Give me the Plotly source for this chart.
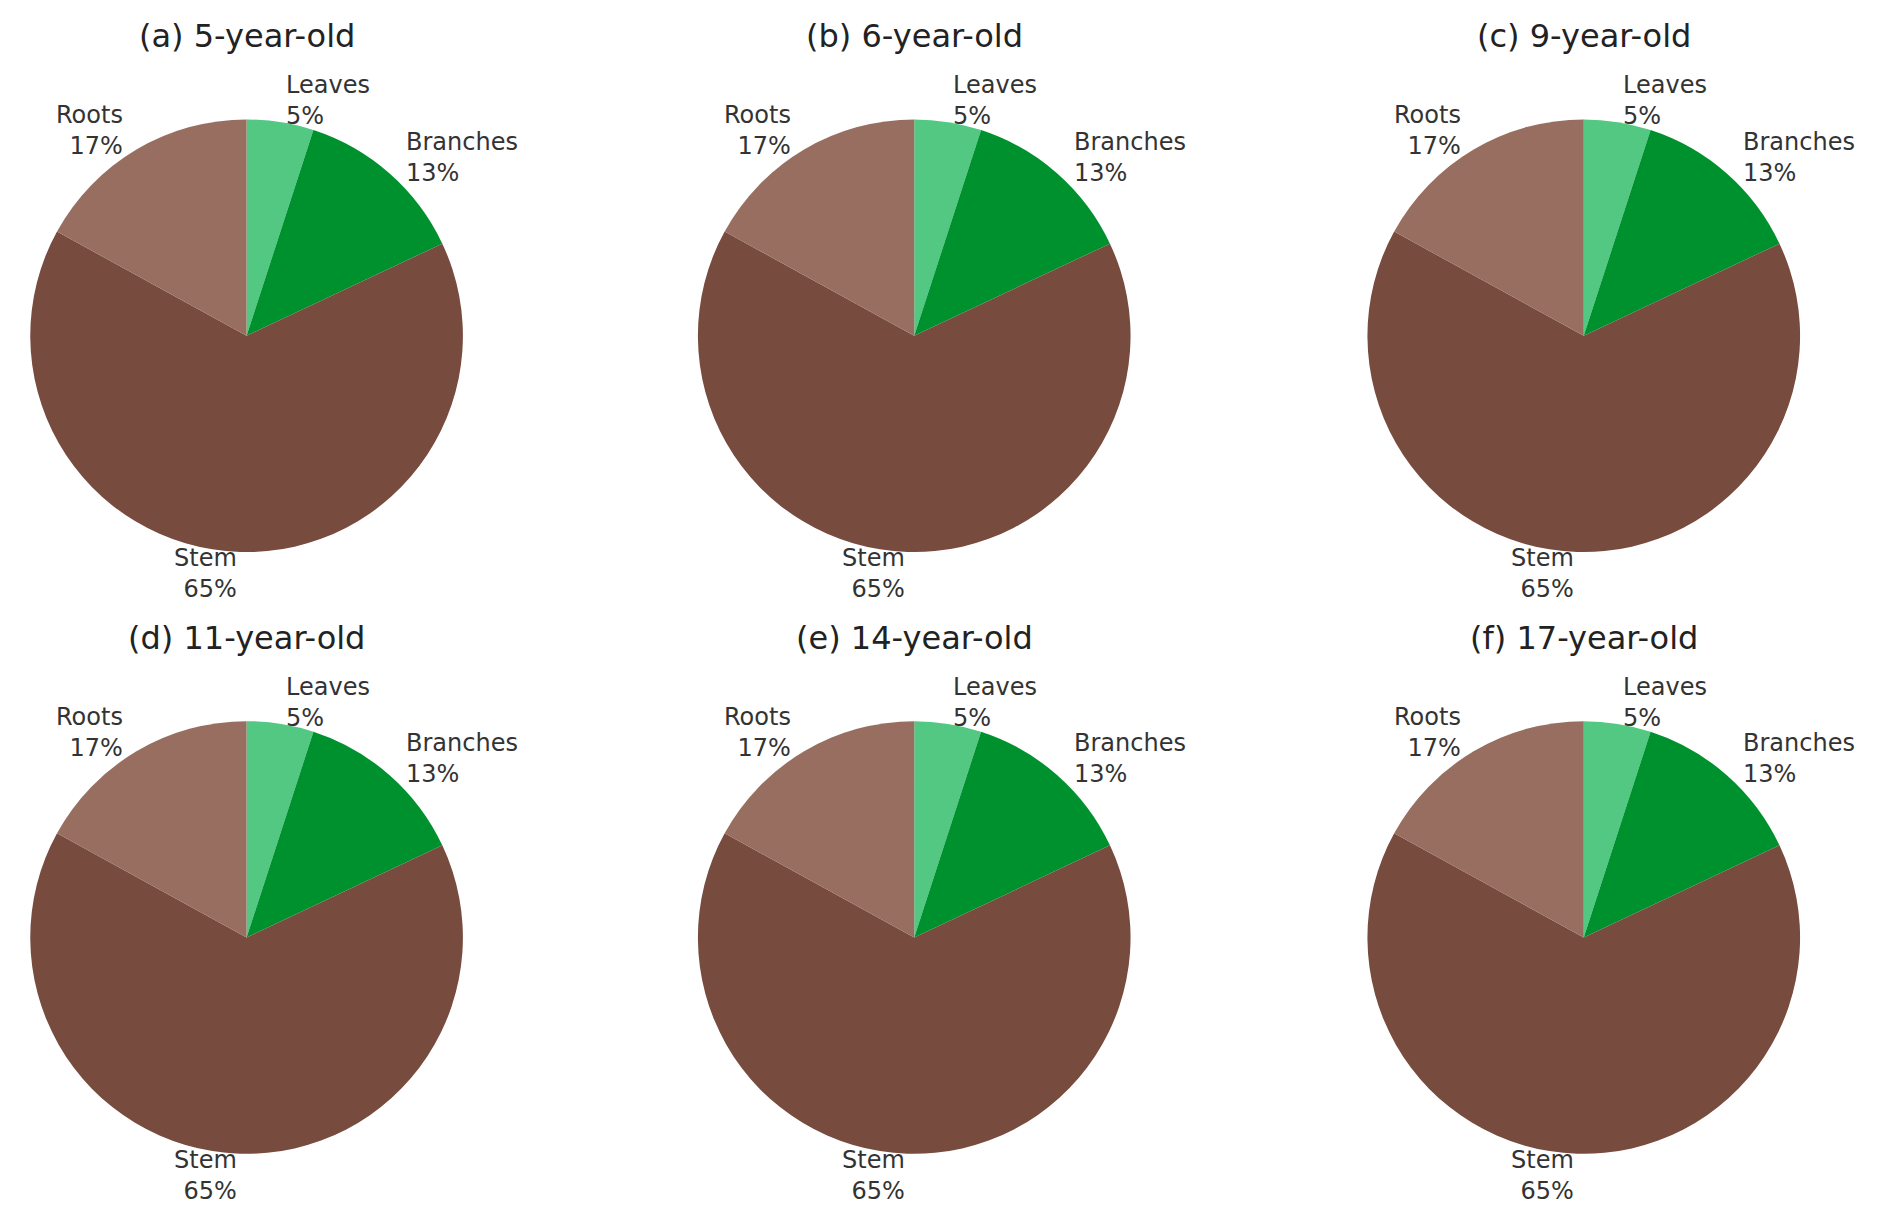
import math
import plotly.graph_objects as go

titles = ["(a) 5-year-old", "(b) 6-year-old", "(c) 9-year-old",
          "(d) 11-year-old", "(e) 14-year-old", "(f) 17-year-old"]
parts = ["Leaves", "Branches", "Stem", "Roots"]
shares = [5, 13, 65, 17]
colors = ["#52c882", "#00912f", "#774b3e", "#986e60"]

W, H = 1886, 1223
col_x = [0.1265, 0.4805, 0.8355]
row_y = [0.732, 0.240]
rx = 0.1147
ry = rx * W / H

fig = go.Figure()
ann = []
for i, t in enumerate(titles):
    cx, cy = col_x[i % 3], row_y[i // 3]
    fig.add_trace(go.Pie(
        labels=parts, values=shares, sort=False, direction="clockwise",
        rotation=0, textinfo="none", hoverinfo="label+percent",
        marker=dict(colors=colors, line=dict(width=0)),
        domain=dict(x=[cx - rx, cx + rx], y=[cy - ry, cy + ry]),
        showlegend=False))
    ann.append(dict(x=cx, y=cy + ry + 0.068, xref="paper", yref="paper",
                    text=t, showarrow=False, font=dict(size=32, color="#222"),
                    xanchor="center", yanchor="middle"))
    # label positions from cumulative angles (start at 90 deg, clockwise)
    total = sum(shares)
    start = 90.0
    for p, v in zip(parts, shares):
        span = 360.0 * v / total
        mid = math.radians(start - span / 2)
        start -= span
        x = cx + 1.1 * rx * math.cos(mid)
        y = cy + 1.1 * ry * math.sin(mid)
        ann.append(dict(x=x, y=y, xref="paper", yref="paper",
                        text=f"{p}<br>{round(100 * v / total)}%", showarrow=False,
                        align="left" if math.cos(mid) > 0 else "right",
                        xanchor="left" if math.cos(mid) > 0 else "right",
                        yanchor="middle", font=dict(size=24, color="#333")))

fig.update_layout(width=W, height=H, margin=dict(l=0, r=0, t=0, b=0),
                  paper_bgcolor="white", annotations=ann,
                  font=dict(family="DejaVu Sans"))
fig.write_html("out.html")
